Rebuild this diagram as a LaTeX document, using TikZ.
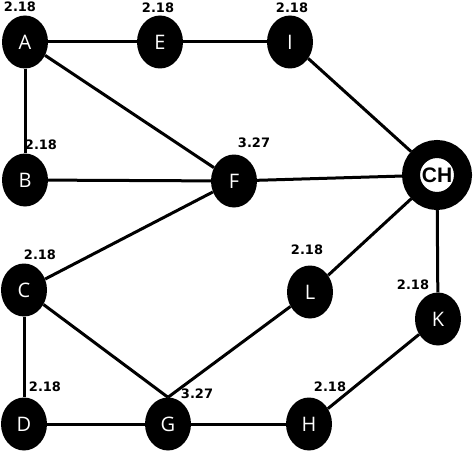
\documentclass[tikz,border=0pt]{standalone}
\usepackage{fontspec}
\setmainfont{DejaVu Sans}
\newfontfamily\nodefont{Open Sans}
\newfontfamily\chfont{Liberation Sans}
\usetikzlibrary{shapes.geometric}
\begin{document}
\begin{tikzpicture}[x=1pt,y=1pt,
  vert/.style={ellipse,fill=black,text=white,inner sep=0pt,minimum width=46pt,minimum height=53pt,font=\nodefont\fontsize{20}{20}\selectfont},
  hub/.style={circle,draw=black,line width=18pt,fill=white,inner sep=0pt,minimum size=52pt,font=\chfont\bfseries\fontsize{21}{21}\selectfont},
  wlabel/.style={font=\bfseries\fontsize{13}{13}\selectfont,inner sep=0pt},
  edge/.style={line width=3pt,draw=black}]
\useasboundingbox (0,0) rectangle (474,451);
\node[vert] (A) at (25,409) {A};
\node[vert] (E) at (160,409) {E};
\node[vert] (I) at (290,409) {I};
\node[vert] (B) at (25,271) {B};
\node[vert] (F) at (234,270) {F};
\node[hub] (CH) at (437,276) {CH};
\node[vert] (C) at (24,161) {C};
\node[vert] (L) at (310,159) {L};
\node[vert] (K) at (438,132) {K};
\node[vert] (D) at (24,27) {D};
\node[vert] (G) at (168,27) {G};
\node[vert] (H) at (309,27) {H};
\node[wlabel] (lA) at (20,444) {2.18};
\node[wlabel] (lE) at (158,443) {2.18};
\node[wlabel] (lI) at (292,443) {2.18};
\node[wlabel] (lB) at (41,306) {2.18};
\node[wlabel] (lF) at (254,308) {3.27};
\node[wlabel] (lC) at (40,196) {2.18};
\node[wlabel] (lL) at (307,201) {2.18};
\node[wlabel] (lK) at (413,166) {2.18};
\node[wlabel] (lD) at (45,64) {2.18};
\node[wlabel] (lG) at (197,57) {3.27};
\node[wlabel] (lH) at (330,64) {2.18};
\draw[edge] (A) -- (E);
\draw[edge] (E) -- (I);
\draw[edge] (A) -- (B);
\draw[edge] (A) -- (F);
\draw[edge] (B) -- (F);
\draw[edge] (F) -- (CH);
\draw[edge] (I) -- (CH);
\draw[edge] (F) -- (C);
\draw[edge] (C) -- (D);
\draw[edge] (C) -- (G.north);
\draw[edge] (D) -- (G);
\draw[edge] (G) -- (H);
\draw[edge] (G.north) -- (L);
\draw[edge] (L) -- (CH);
\draw[edge] (CH) -- (K);
\draw[edge] (K) -- (H);
\end{tikzpicture}
\end{document}
